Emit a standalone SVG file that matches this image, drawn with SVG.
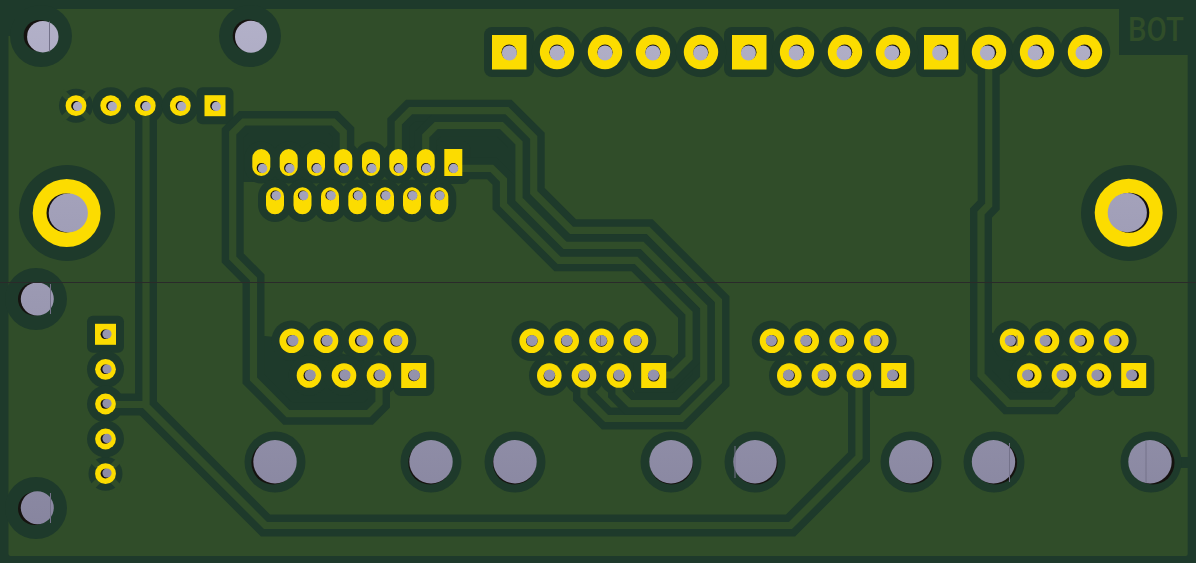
<svg xmlns="http://www.w3.org/2000/svg" width="1196" height="563" viewBox="0 0 1196 563">
<style>
.k{fill:#1e3a2b}
.z{fill:#1e3a2b;stroke:none}
.g{fill:#304d29}
.td{fill:none;stroke:#1e3a2b;stroke-width:22}
.tg{fill:none;stroke:#304d29;stroke-width:7.2}
.y{fill:#fcdc00}
.oc{fill:none;stroke:#1e3a2b;stroke-width:34;stroke-linecap:round}
.oy{fill:none;stroke:#fcdc00;stroke-width:18;stroke-linecap:round}
.h{fill:url(#hg)}
.b{fill:#15120f}
.s{stroke:#74728a;stroke-width:1;fill:none}
text{font-family:"Roboto","Liberation Sans",sans-serif;font-weight:500;fill:#304d29}
</style>
<defs>
<linearGradient id="hg" gradientUnits="userSpaceOnUse" x1="0" y1="0" x2="0" y2="563">
<stop offset="0" stop-color="#b4b2ca"/><stop offset="1" stop-color="#84829c"/>
</linearGradient>
</defs>

<g id="board">
<rect class="k" width="1196" height="563"/>
<rect class="g" x="8.5" y="9" width="1179.2" height="547" rx="2"/>
<rect class="k" x="1119" y="0" width="77" height="55"/>
<rect class="k" x="0" y="0" width="41" height="36"/>
<rect class="k" x="1165" y="457" width="25" height="11"/>
<text x="1128" y="41" font-size="34" textLength="56" lengthAdjust="spacingAndGlyphs">BOT</text>
</g>

<g id="thermals">
<circle class="k" cx="76" cy="105.7" r="17"/>
<path d="M62 91.7L90 119.7M62 119.7L90 91.7" stroke="#304d29" stroke-width="6" fill="none"/>
<circle class="k" cx="105.5" cy="473.7" r="17"/>
<path d="M91.5 459.7L119.5 487.7M91.5 487.7L119.5 459.7" stroke="#304d29" stroke-width="6" fill="none"/>
</g>

<g id="zones">
<path class="z" d="M236 135L247 126H340V182H236Z"/>
<path class="z" d="M265 336L300 340L395 370L375 385V403L367 410H288L257 378V336Z"/>
<path class="z" d="M401 120L411 114H435L423 130V150H401Z"/>
<path class="z" d="M430 138L439 129H500L515 146V195H495L490 165H463L430 150Z"/>
<path class="z" d="M640 385H672L692 365L700 378L677 400H632Z"/>
<path class="z" d="M984.3 325L1000 340L1060 375L1062 390L1052 399.3H1010L984.3 375Z"/>
</g>

<g id="clearances">
<circle class="k" cx="41" cy="36" r="31"/><circle class="k" cx="250" cy="36" r="31"/>
<circle class="k" cx="36" cy="299" r="31"/><circle class="k" cx="36" cy="508" r="31"/>
<circle class="k" cx="67" cy="213" r="48"/><circle class="k" cx="1129" cy="213" r="48"/>
<circle class="k" cx="275" cy="462" r="30.5"/><circle class="k" cx="431" cy="462" r="30.5"/><circle class="k" cx="515" cy="462" r="30.5"/><circle class="k" cx="671" cy="462" r="30.5"/><circle class="k" cx="755" cy="462" r="30.5"/><circle class="k" cx="911" cy="462" r="30.5"/><circle class="k" cx="994" cy="462" r="30.5"/><circle class="k" cx="1151" cy="462" r="30.5"/>
<rect class="k" x="484" y="27" width="50" height="50" rx="8"/><rect class="k" x="724" y="27" width="50" height="50" rx="8"/><rect class="k" x="916" y="27" width="50" height="50" rx="8"/>
<circle class="k" cx="557" cy="52" r="25.3"/><circle class="k" cx="605" cy="52" r="25.3"/><circle class="k" cx="653" cy="52" r="25.3"/><circle class="k" cx="701" cy="52" r="25.3"/><circle class="k" cx="797" cy="52" r="25.3"/><circle class="k" cx="845" cy="52" r="25.3"/><circle class="k" cx="893" cy="52" r="25.3"/><circle class="k" cx="989" cy="52" r="25.3"/><circle class="k" cx="1037" cy="52" r="25.3"/><circle class="k" cx="1085" cy="52" r="25.3"/>
<circle class="k" cx="110.7" cy="105.7" r="18.5"/><circle class="k" cx="145.3" cy="105.7" r="18.5"/><circle class="k" cx="180.3" cy="105.7" r="18.5"/><rect class="k" x="196.5" y="87.2" width="37" height="37" rx="6"/>
<rect class="k" x="87" y="315.8" width="37" height="37" rx="6"/><circle class="k" cx="105.5" cy="369.3" r="18.5"/><circle class="k" cx="105.5" cy="404" r="18.5"/><circle class="k" cx="105.5" cy="439" r="18.5"/>
<g id="group-clear">
<circle class="k" cx="291.7" cy="340.7" r="20.3"/><circle class="k" cx="326" cy="340.7" r="20.3"/><circle class="k" cx="361" cy="340.7" r="20.3"/><circle class="k" cx="396" cy="340.7" r="20.3"/><circle class="k" cx="309" cy="375.5" r="20.3"/><circle class="k" cx="344" cy="375.5" r="20.3"/><circle class="k" cx="379" cy="375.5" r="20.3"/><rect class="k" x="393.2" y="355" width="41" height="41" rx="8"/>
<circle class="k" cx="531.7" cy="340.7" r="20.3"/><circle class="k" cx="566.7" cy="340.7" r="20.3"/><circle class="k" cx="601.5" cy="340.7" r="20.3"/><circle class="k" cx="636" cy="340.7" r="20.3"/><circle class="k" cx="549.3" cy="375.5" r="20.3"/><circle class="k" cx="584" cy="375.5" r="20.3"/><circle class="k" cx="619" cy="375.5" r="20.3"/><rect class="k" x="633.2" y="355" width="41" height="41" rx="8"/>
<circle class="k" cx="772" cy="340.7" r="20.3"/><circle class="k" cx="806.7" cy="340.7" r="20.3"/><circle class="k" cx="841.7" cy="340.7" r="20.3"/><circle class="k" cx="876.3" cy="340.7" r="20.3"/><circle class="k" cx="789.3" cy="375.5" r="20.3"/><circle class="k" cx="824" cy="375.5" r="20.3"/><circle class="k" cx="859" cy="375.5" r="20.3"/><rect class="k" x="873.2" y="355" width="41" height="41" rx="8"/>
<circle class="k" cx="1012" cy="340.7" r="20.3"/><circle class="k" cx="1047" cy="340.7" r="20.3"/><circle class="k" cx="1081.7" cy="340.7" r="20.3"/><circle class="k" cx="1116.3" cy="340.7" r="20.3"/><circle class="k" cx="1029.3" cy="375.5" r="20.3"/><circle class="k" cx="1064" cy="375.5" r="20.3"/><circle class="k" cx="1099" cy="375.5" r="20.3"/><rect class="k" x="1113.2" y="355" width="41" height="41" rx="8"/>
</g>
<path class="oc" d="M261.3 158.5V166.5M288.7 158.5V166.5M316 158.5V166.5M343.3 158.5V166.5M371 158.5V166.5M398.3 158.5V166.5M425.7 158.5V166.5"/>
<path class="oc" d="M275 196.5V205M302.5 196.5V205M330 196.5V205M357.3 196.5V205M385 196.5V205M412 196.5V205M439.3 196.5V205"/>
<rect class="k" x="436.3" y="141" width="34" height="43" rx="8"/>
</g>

<g id="connectors">
<g id="trace-clearance">
<path class="td" d="M146 106V406L265.5 525.5H790.5L859 457V375.5"/>
<path class="td" d="M105.5 404.5H144"/>
<path class="td" d="M379 375.5V403L368.3 413.7H288L253.5 379V279L232.7 258V133L243.7 122H333.3L343.3 132V168"/>
<path class="td" d="M398.3 168V123L410.6 110.7H507L533.7 137.4V192.5L571.5 230.3H648L718.5 300.8V381.5L681.5 418.5H606.5L584 396V375.5"/>
<path class="td" d="M425.7 168V136L436.2 125.5H501.5L519 143V199.3L565 245.3H642L703.7 307V378.3L678 403.7H630L619 392.7V375.5"/>
<path class="td" d="M453 168.3H491.7L503.5 180.1V204.8L559 260.3H636L689 313.3V358L672 375H653.7"/>
<path class="td" d="M988.7 52V205L981 213V375L1008.5 403.3H1053L1064 392V375.5"/>
</g>
<g id="traces">
<path class="tg" d="M146 106V406L265.5 525.5H790.5L859 457V375.5"/>
<path class="tg" d="M105.5 404.5H144"/>
<path class="tg" d="M379 375.5V403L368.3 413.7H288L253.5 379V279L232.7 258V133L243.7 122H333.3L343.3 132V168"/>
<path class="tg" d="M398.3 168V123L410.6 110.7H507L533.7 137.4V192.5L571.5 230.3H648L718.5 300.8V381.5L681.5 418.5H606.5L584 396V375.5"/>
<path class="tg" d="M425.7 168V136L436.2 125.5H501.5L519 143V199.3L565 245.3H642L703.7 307V378.3L678 403.7H630L619 392.7V375.5"/>
<path class="tg" d="M453 168.3H491.7L503.5 180.1V204.8L559 260.3H636L689 313.3V358L672 375H653.7"/>
<path class="tg" d="M988.7 52V205L981 213V375L1008.5 403.3H1053L1064 392V375.5"/>
</g>
</g>

<g id="pads-top-header">
<rect class="y" x="492" y="35" width="34.5" height="34.5"/><rect class="y" x="732" y="35" width="34.5" height="34.5"/><rect class="y" x="924" y="35" width="34.5" height="34.5"/>
<circle class="y" cx="557" cy="52" r="17.2"/><circle class="y" cx="605" cy="52" r="17.2"/><circle class="y" cx="653" cy="52" r="17.2"/><circle class="y" cx="701" cy="52" r="17.2"/><circle class="y" cx="797" cy="52" r="17.2"/><circle class="y" cx="845" cy="52" r="17.2"/><circle class="y" cx="893" cy="52" r="17.2"/><circle class="y" cx="989" cy="52" r="17.2"/><circle class="y" cx="1037" cy="52" r="17.2"/><circle class="y" cx="1085" cy="52" r="17.2"/>
<circle class="b" cx="509.1" cy="52.2" r="7.6"/><circle class="b" cx="557" cy="52.2" r="7.6"/><circle class="b" cx="605" cy="52.2" r="7.6"/><circle class="b" cx="653" cy="52.2" r="7.6"/><circle class="b" cx="700.9" cy="52.2" r="7.6"/><circle class="b" cx="748.9" cy="52.2" r="7.6"/><circle class="b" cx="796.8" cy="52.2" r="7.6"/><circle class="b" cx="844.7" cy="52.2" r="7.6"/><circle class="b" cx="892.7" cy="52.2" r="7.6"/><circle class="b" cx="940.6" cy="52.2" r="7.6"/><circle class="b" cx="988.6" cy="52.2" r="7.6"/><circle class="b" cx="1036.5" cy="52.2" r="7.6"/><circle class="b" cx="1084.5" cy="52.2" r="7.6"/>
<circle class="h" cx="509.4" cy="52.9" r="7.5"/><circle class="h" cx="557.2" cy="52.9" r="7.5"/><circle class="h" cx="605" cy="52.9" r="7.5"/><circle class="h" cx="652.8" cy="52.9" r="7.5"/><circle class="h" cx="700.6" cy="52.9" r="7.5"/><circle class="h" cx="748.4" cy="52.9" r="7.5"/><circle class="h" cx="796.2" cy="52.9" r="7.5"/><circle class="h" cx="844" cy="52.9" r="7.5"/><circle class="h" cx="891.8" cy="52.9" r="7.5"/><circle class="h" cx="939.6" cy="52.9" r="7.5"/><circle class="h" cx="987.4" cy="52.9" r="7.5"/><circle class="h" cx="1035.2" cy="52.9" r="7.5"/><circle class="h" cx="1083" cy="52.9" r="7.5"/>
</g>

<g id="pads-small-top">
<circle class="y" cx="76" cy="105.7" r="10.4"/><circle class="y" cx="110.7" cy="105.7" r="10.4"/><circle class="y" cx="145.3" cy="105.7" r="10.4"/><circle class="y" cx="180.3" cy="105.7" r="10.4"/><rect class="y" x="204.5" y="95.2" width="21" height="21"/>
<circle class="b" cx="76" cy="105.9" r="4.8"/><circle class="b" cx="111" cy="105.9" r="4.8"/><circle class="b" cx="145" cy="105.9" r="4.8"/><circle class="b" cx="180.4" cy="105.9" r="4.8"/><circle class="b" cx="215" cy="105.9" r="4.8"/>
<circle class="h" cx="77.5" cy="106.4" r="4.6"/><circle class="h" cx="112.4" cy="106.4" r="4.6"/><circle class="h" cx="146.3" cy="106.4" r="4.6"/><circle class="h" cx="181.6" cy="106.4" r="4.6"/><circle class="h" cx="216.3" cy="106.4" r="4.6"/>
</g>

<g id="pads-small-left">
<rect class="y" x="95" y="323.8" width="21" height="21"/><circle class="y" cx="105.5" cy="369.3" r="10.4"/><circle class="y" cx="105.5" cy="404" r="10.4"/><circle class="y" cx="105.5" cy="439" r="10.4"/><circle class="y" cx="105.5" cy="473.7" r="10.4"/>
<circle class="b" cx="105.4" cy="334.3" r="4.8"/><circle class="b" cx="105.4" cy="369.3" r="4.8"/><circle class="b" cx="105.4" cy="404" r="4.8"/><circle class="b" cx="105.4" cy="439" r="4.8"/><circle class="b" cx="105.4" cy="473.6" r="4.8"/>
<circle class="h" cx="107" cy="334.1" r="4.6"/><circle class="h" cx="107" cy="369" r="4.6"/><circle class="h" cx="107" cy="403.5" r="4.6"/><circle class="h" cx="107" cy="438.4" r="4.6"/><circle class="h" cx="107" cy="473" r="4.6"/>
</g>

<g id="connector-ovals">
<path class="oy" d="M261.3 158V167M288.7 158V167M316 158V167M343.3 158V167M371 158V167M398.3 158V167M425.7 158V167"/>
<path class="oy" d="M275 196.3V205.3M302.5 196.3V205.3M330 196.3V205.3M357.3 196.3V205.3M385 196.3V205.3M412 196.3V205.3M439.3 196.3V205.3"/>
<rect class="y" x="444.3" y="149" width="18" height="27"/>
<circle class="b" cx="261.6" cy="168" r="4.9"/><circle class="b" cx="289" cy="168" r="4.9"/><circle class="b" cx="316.3" cy="168" r="4.9"/><circle class="b" cx="343.6" cy="168" r="4.9"/><circle class="b" cx="371.2" cy="168" r="4.9"/><circle class="b" cx="398.5" cy="168" r="4.9"/><circle class="b" cx="425.9" cy="168" r="4.9"/><circle class="b" cx="453.2" cy="168" r="4.9"/>
<circle class="b" cx="275.3" cy="195.4" r="4.9"/><circle class="b" cx="302.8" cy="195.4" r="4.9"/><circle class="b" cx="330.3" cy="195.4" r="4.9"/><circle class="b" cx="357.6" cy="195.4" r="4.9"/><circle class="b" cx="385.2" cy="195.4" r="4.9"/><circle class="b" cx="412.2" cy="195.4" r="4.9"/><circle class="b" cx="439.5" cy="195.4" r="4.9"/>
<circle class="h" cx="262.6" cy="168.5" r="4.7"/><circle class="h" cx="289.9" cy="168.5" r="4.7"/><circle class="h" cx="317.1" cy="168.5" r="4.7"/><circle class="h" cx="344.3" cy="168.5" r="4.7"/><circle class="h" cx="371.9" cy="168.5" r="4.7"/><circle class="h" cx="399.1" cy="168.5" r="4.7"/><circle class="h" cx="426.4" cy="168.5" r="4.7"/><circle class="h" cx="453.6" cy="168.5" r="4.7"/>
<circle class="h" cx="276.3" cy="195.6" r="4.7"/><circle class="h" cx="303.7" cy="195.6" r="4.7"/><circle class="h" cx="331.1" cy="195.6" r="4.7"/><circle class="h" cx="358.3" cy="195.6" r="4.7"/><circle class="h" cx="385.9" cy="195.6" r="4.7"/><circle class="h" cx="412.7" cy="195.6" r="4.7"/><circle class="h" cx="439.9" cy="195.6" r="4.7"/>
</g>

<g id="header-1">
<circle class="y" cx="291.7" cy="340.7" r="12.3"/><circle class="y" cx="326" cy="340.7" r="12.3"/><circle class="y" cx="361" cy="340.7" r="12.3"/><circle class="y" cx="396" cy="340.7" r="12.3"/><circle class="y" cx="309" cy="375.5" r="12.3"/><circle class="y" cx="344" cy="375.5" r="12.3"/><circle class="y" cx="379" cy="375.5" r="12.3"/><rect class="y" x="401.2" y="363" width="25" height="25"/>
<circle class="b" cx="292" cy="340.8" r="5.8"/><circle class="b" cx="326.3" cy="340.8" r="5.8"/><circle class="b" cx="360.7" cy="340.8" r="5.8"/><circle class="b" cx="396.2" cy="340.8" r="5.8"/><circle class="b" cx="309.3" cy="375.5" r="5.8"/><circle class="b" cx="344.2" cy="375.5" r="5.8"/><circle class="b" cx="379.2" cy="375.5" r="5.8"/><circle class="b" cx="413.9" cy="375.5" r="5.8"/>
<circle class="h" cx="292.9" cy="340.5" r="5.6"/><circle class="h" cx="327.1" cy="340.5" r="5.6"/><circle class="h" cx="362" cy="340.5" r="5.6"/><circle class="h" cx="396.8" cy="340.5" r="5.6"/><circle class="h" cx="310.2" cy="375.1" r="5.6"/><circle class="h" cx="345" cy="375.1" r="5.6"/><circle class="h" cx="379.9" cy="375.1" r="5.6"/><circle class="h" cx="414.4" cy="375.1" r="5.6"/>
</g>
<g id="header-2">
<circle class="y" cx="531.7" cy="340.7" r="12.3"/><circle class="y" cx="566.7" cy="340.7" r="12.3"/><circle class="y" cx="601.5" cy="340.7" r="12.3"/><circle class="y" cx="636" cy="340.7" r="12.3"/><circle class="y" cx="549.3" cy="375.5" r="12.3"/><circle class="y" cx="584" cy="375.5" r="12.3"/><circle class="y" cx="619" cy="375.5" r="12.3"/><rect class="y" x="641.2" y="363" width="25" height="25"/>
<circle class="b" cx="531.8" cy="341" r="5.8"/><circle class="b" cx="566.7" cy="341" r="5.8"/><circle class="b" cx="601.5" cy="341" r="5.8"/><circle class="b" cx="635.9" cy="341" r="5.8"/><circle class="b" cx="549.4" cy="375.8" r="5.8"/><circle class="b" cx="584" cy="375.8" r="5.8"/><circle class="b" cx="618.9" cy="375.8" r="5.8"/><circle class="b" cx="653.7" cy="375.8" r="5.8"/>
<circle class="h" cx="532" cy="340.5" r="5.6"/><circle class="h" cx="566.8" cy="340.5" r="5.6"/><circle class="h" cx="601.5" cy="340.5" r="5.6"/><circle class="h" cx="635.8" cy="340.5" r="5.6"/><circle class="h" cx="549.5" cy="375.1" r="5.6"/><circle class="h" cx="584" cy="375.1" r="5.6"/><circle class="h" cx="618.9" cy="375.1" r="5.6"/><circle class="h" cx="653.5" cy="375.1" r="5.6"/>
</g>
<g id="header-3">
<circle class="y" cx="772" cy="340.7" r="12.3"/><circle class="y" cx="806.7" cy="340.7" r="12.3"/><circle class="y" cx="841.7" cy="340.7" r="12.3"/><circle class="y" cx="876.3" cy="340.7" r="12.3"/><circle class="y" cx="789.3" cy="375.5" r="12.3"/><circle class="y" cx="824" cy="375.5" r="12.3"/><circle class="y" cx="859" cy="375.5" r="12.3"/><rect class="y" x="881.2" y="363" width="25" height="25"/>
<circle class="b" cx="771.8" cy="340.8" r="5.8"/><circle class="b" cx="806.5" cy="340.8" r="5.8"/><circle class="b" cx="841.4" cy="340.8" r="5.8"/><circle class="b" cx="876" cy="340.8" r="5.8"/><circle class="b" cx="789.1" cy="375.5" r="5.8"/><circle class="b" cx="823.8" cy="375.5" r="5.8"/><circle class="b" cx="858.8" cy="375.5" r="5.8"/><circle class="b" cx="893.4" cy="375.5" r="5.8"/>
<circle class="h" cx="771.3" cy="340.5" r="5.6"/><circle class="h" cx="805.9" cy="340.5" r="5.6"/><circle class="h" cx="840.7" cy="340.5" r="5.6"/><circle class="h" cx="875.2" cy="340.5" r="5.6"/><circle class="h" cx="788.5" cy="375.1" r="5.6"/><circle class="h" cx="823.1" cy="375.1" r="5.6"/><circle class="h" cx="858" cy="375.1" r="5.6"/><circle class="h" cx="892.5" cy="375.1" r="5.6"/>
</g>
<g id="header-4">
<circle class="y" cx="1012" cy="340.7" r="12.3"/><circle class="y" cx="1047" cy="340.7" r="12.3"/><circle class="y" cx="1081.7" cy="340.7" r="12.3"/><circle class="y" cx="1116.3" cy="340.7" r="12.3"/><circle class="y" cx="1029.3" cy="375.5" r="12.3"/><circle class="y" cx="1064" cy="375.5" r="12.3"/><circle class="y" cx="1099" cy="375.5" r="12.3"/><rect class="y" x="1121.2" y="363" width="25" height="25"/>
<circle class="b" cx="1011.5" cy="340.8" r="5.8"/><circle class="b" cx="1046.5" cy="340.8" r="5.8"/><circle class="b" cx="1081.2" cy="340.8" r="5.8"/><circle class="b" cx="1115.8" cy="340.8" r="5.8"/><circle class="b" cx="1028.9" cy="375.5" r="5.8"/><circle class="b" cx="1063.5" cy="375.5" r="5.8"/><circle class="b" cx="1098.5" cy="375.5" r="5.8"/><circle class="b" cx="1133.2" cy="375.5" r="5.8"/>
<circle class="h" cx="1010.3" cy="340.5" r="5.6"/><circle class="h" cx="1045.2" cy="340.5" r="5.6"/><circle class="h" cx="1079.8" cy="340.5" r="5.6"/><circle class="h" cx="1114.2" cy="340.5" r="5.6"/><circle class="h" cx="1027.6" cy="375.1" r="5.6"/><circle class="h" cx="1062.1" cy="375.1" r="5.6"/><circle class="h" cx="1097" cy="375.1" r="5.6"/><circle class="h" cx="1131.6" cy="375.1" r="5.6"/>
</g>

<g id="mount-holes">
<circle class="y" cx="66.7" cy="213" r="34"/><circle class="y" cx="1128.7" cy="212.7" r="34"/>
<circle class="b" cx="66" cy="213" r="19.5"/><circle class="h" cx="68.3" cy="213" r="19.6"/>
<circle class="b" cx="1129.3" cy="212.7" r="20"/><circle class="h" cx="1127.3" cy="212.7" r="19.6"/>
<circle class="b" cx="39.5" cy="35.7" r="15.8"/><circle class="h" cx="42.8" cy="36.7" r="15.7"/>
<circle class="b" cx="248.7" cy="35.5" r="16"/><circle class="h" cx="251" cy="36.7" r="16"/>
<circle class="b" cx="34.5" cy="299" r="16.5"/><circle class="h" cx="37.3" cy="299" r="16.5"/>
<circle class="b" cx="34.5" cy="508.5" r="16.5"/><circle class="h" cx="37.3" cy="507.7" r="16.5"/>
<circle class="b" cx="273.1" cy="462.8" r="21.7"/><circle class="h" cx="275" cy="461.7" r="21.7"/>
<circle class="b" cx="430" cy="462.8" r="21.7"/><circle class="h" cx="431" cy="461.7" r="21.7"/>
<circle class="b" cx="514.5" cy="462.8" r="21.7"/><circle class="h" cx="515" cy="461.7" r="21.7"/>
<circle class="b" cx="671.4" cy="462.8" r="21.7"/><circle class="h" cx="671" cy="461.7" r="21.7"/>
<circle class="b" cx="755.9" cy="462.8" r="21.7"/><circle class="h" cx="755" cy="461.7" r="21.7"/>
<circle class="b" cx="911.9" cy="462.8" r="21.7"/><circle class="h" cx="910.7" cy="461.7" r="21.7"/>
<circle class="b" cx="995.4" cy="462.8" r="21.7"/><circle class="h" cx="993.5" cy="461.7" r="21.7"/>
<circle class="b" cx="1152.8" cy="462.8" r="21.7"/><circle class="h" cx="1150" cy="461.7" r="21.7"/>
<path class="s" d="M49.5 21.5V51.5M50.5 284V314M50.5 493V523M600.5 336V346M872 335.5V346M1017 335.5V346M735 446V478M1009.5 443V482M1146 441.5V483"/>
</g>

<line x1="0" y1="282.5" x2="1196" y2="282.5" stroke="#2a2a2a" stroke-width="1"/>
</svg>
